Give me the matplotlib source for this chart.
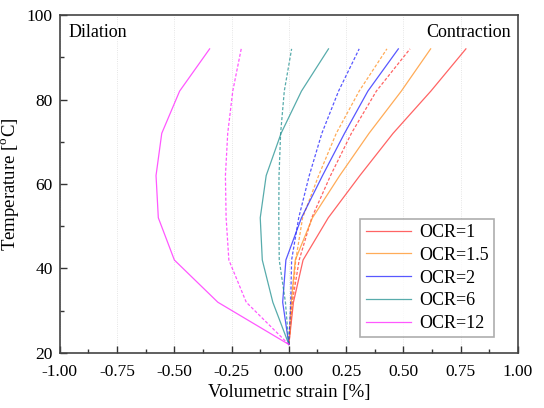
import numpy as np
import matplotlib
matplotlib.use("Agg")
import matplotlib.pyplot as plt
from matplotlib.ticker import MultipleLocator

plt.rcParams['font.family'] = ['Liberation Serif', 'DejaVu Serif']
plt.rcParams['mathtext.fontset'] = 'custom'
plt.rcParams['mathtext.rm'] = 'Liberation Serif'

# Temperature levels (deg C)
temperature = [22, 32, 42, 52, 62, 72, 82, 92]

ocr_labels = ['OCR=1', 'OCR=1.5', 'OCR=2', 'OCR=6', 'OCR=12']
colors = ['#ff3030', '#ff9020', '#2020ff', '#209090', '#ff20ff']

# volumetric strain [%], solid lines
strain_solid = [
    [0, 0.020, 0.062, 0.172, 0.310, 0.455, 0.620, 0.773],
    [0, 0.010, 0.028, 0.103, 0.222, 0.350, 0.491, 0.619],
    [0, -0.027, -0.013, 0.055, 0.147, 0.243, 0.345, 0.478],
    [0, -0.070, -0.116, -0.125, -0.099, -0.034, 0.055, 0.173],
    [0, -0.310, -0.500, -0.570, -0.580, -0.555, -0.477, -0.346],
]
# volumetric strain [%], dashed lines
strain_dashed = [
    [0, 0.015, 0.045, 0.100, 0.182, 0.273, 0.382, 0.529],
    [0, 0.015, 0.030, 0.060, 0.130, 0.207, 0.307, 0.428],
    [0, 0.008, 0.012, 0.043, 0.089, 0.144, 0.217, 0.307],
    [0, -0.015, -0.042, -0.044, -0.043, -0.036, -0.020, 0.012],
    [0, -0.186, -0.262, -0.274, -0.277, -0.267, -0.245, -0.208],
]

fig = plt.figure(figsize=(5.44, 4.08), dpi=100)
ax = fig.add_axes([0.110, 0.135, 0.842, 0.828])

for lab, c, s, d in zip(ocr_labels, colors, strain_solid, strain_dashed):
    ax.plot(s, temperature, '-', color=c, lw=0.9, alpha=0.75, label=lab)
    ax.plot(d, temperature, '--', color=c, lw=0.9, alpha=0.75, dashes=(2.5, 1.5))

ax.set_xlim(-1, 1)
ax.set_ylim(20, 100)
ax.xaxis.set_major_locator(MultipleLocator(0.25))
ax.xaxis.set_minor_locator(MultipleLocator(0.125))
ax.yaxis.set_major_locator(MultipleLocator(20))
ax.yaxis.set_minor_locator(MultipleLocator(10))
ax.xaxis.set_major_formatter(matplotlib.ticker.FormatStrFormatter('%.2f'))
ax.tick_params(which='both', direction='in', labelsize=12.5, color='#333333')
ax.tick_params(which='major', length=5, width=1)
ax.tick_params(which='minor', length=3, width=1)
ax.tick_params(axis='x', pad=8)
ax.tick_params(axis='y', pad=5)
for sp in ax.spines.values():
    sp.set_color('#444444')
    sp.set_linewidth(1.2)

ax.grid(True, axis='x', which='major', color='#dddddd', lw=0.6, ls=':')

ax.set_xlabel('Volumetric strain [%]', fontsize=13.5, labelpad=3)
ax.set_ylabel('Temperature [$^{\\rm o}$C]', fontsize=13.5)

ax.text(0.018, 0.975, 'Dilation', transform=ax.transAxes, ha='left', va='top', fontsize=13)
ax.text(0.985, 0.975, 'Contraction', transform=ax.transAxes, ha='right', va='top', fontsize=13)

leg = ax.legend(loc='lower right', bbox_to_anchor=(0.956, 0.035), fontsize=13,
                frameon=True, fancybox=False, handlelength=2.5, borderpad=0.3,
                labelspacing=0.32, handletextpad=0.45, borderaxespad=0.2)
leg.get_frame().set_edgecolor('#999999')
leg.get_frame().set_linewidth(1.2)

fig.savefig('out.png', dpi=100)
